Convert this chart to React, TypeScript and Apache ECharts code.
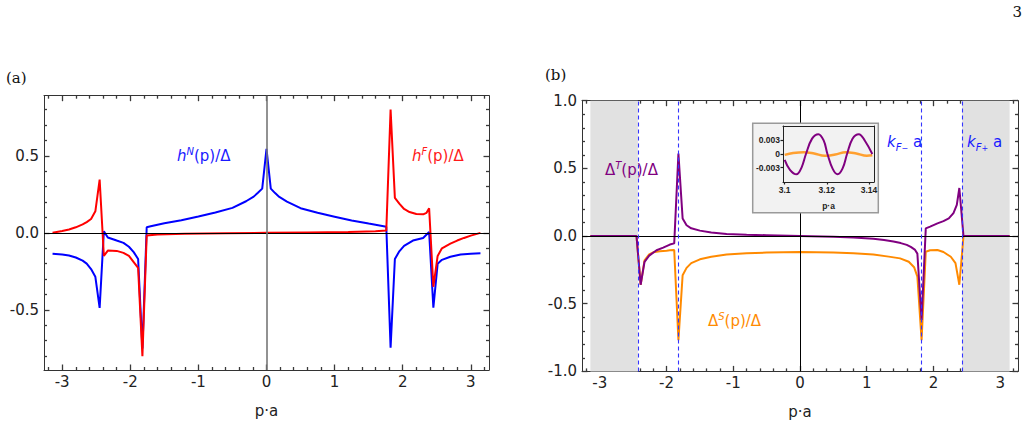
import React, { useEffect, useRef } from "react";
import * as echarts from "echarts";

const PI = 3.1416;

// ---------- Panel (a): h^N and h^F ----------
const hN: [number, number][] = [
  [-3.1416, -0.136], [-3.0, -0.14], [-2.9, -0.147], [-2.8, -0.16], [-2.7, -0.18],
  [-2.64, -0.2], [-2.576, -0.235], [-2.513, -0.285], [-2.45, -0.487], [-2.388, 0.01],
  [-2.33, -0.03], [-2.2, -0.05], [-2.1, -0.065], [-2.02, -0.09], [-1.95, -0.125],
  [-1.885, -0.17], [-1.822, -0.75], [-1.759, 0.036], [-1.7, 0.043], [-1.5, 0.062],
  [-1.25, 0.082], [-1.0, 0.106], [-0.75, 0.132], [-0.5, 0.162], [-0.3, 0.205],
  [-0.188, 0.235], [-0.126, 0.26], [-0.063, 0.287], [0, 0.545], [0.063, 0.287],
  [0.126, 0.258], [0.188, 0.233], [0.3, 0.203], [0.5, 0.16], [0.75, 0.13],
  [1.0, 0.105], [1.25, 0.08], [1.5, 0.06], [1.7, 0.045], [1.759, 0.04],
  [1.822, -0.745], [1.885, -0.17], [1.95, -0.12], [2.02, -0.085], [2.15, -0.05],
  [2.3, -0.033], [2.388, 0.005], [2.45, -0.485], [2.513, -0.2], [2.576, -0.175],
  [2.7, -0.155], [2.85, -0.14], [3.0, -0.135], [3.1416, -0.132],
];

const hF: [number, number][] = [
  [-3.1416, 0], [-3.0, 0.012], [-2.9, 0.022], [-2.8, 0.036], [-2.7, 0.055],
  [-2.64, 0.07], [-2.576, 0.09], [-2.513, 0.14], [-2.45, 0.346], [-2.388, -0.15],
  [-2.33, -0.115], [-2.2, -0.117], [-2.1, -0.13], [-2.02, -0.15], [-1.95, -0.19],
  [-1.885, -0.227], [-1.822, -0.8], [-1.759, -0.017], [-1.6, -0.01], [-1.2, -0.006],
  [-0.6, -0.003], [0, 0], [0.6, 0.003], [1.2, 0.006], [1.6, 0.01],
  [1.759, 0.016], [1.822, 0.8], [1.885, 0.227], [1.95, 0.19], [2.02, 0.155],
  [2.1, 0.135], [2.2, 0.122], [2.3, 0.12], [2.35, 0.13], [2.388, 0.16],
  [2.45, -0.35], [2.513, -0.15], [2.576, -0.1], [2.7, -0.07], [2.8, -0.05],
  [2.9, -0.033], [3.0, -0.018], [3.1416, 0],
];

// ---------- Panel (b): Delta^S and Delta^T ----------
const dS: [number, number][] = [
  [-3.1416, 0], [-2.513, 0], [-2.45, 0], [-2.388, -0.36], [-2.33, -0.18],
  [-2.26, -0.135], [-2.2, -0.12], [-2.1, -0.112], [-2.0, -0.108], [-1.95, -0.105],
  [-1.885, -0.103], [-1.822, -0.77], [-1.759, -0.29], [-1.7, -0.235], [-1.63, -0.2],
  [-1.5, -0.172], [-1.33, -0.153], [-1.1, -0.137], [-0.8, -0.127], [-0.5, -0.122],
  [0, -0.118], [0.5, -0.122], [0.8, -0.127], [1.1, -0.137], [1.33, -0.152],
  [1.5, -0.165], [1.63, -0.19], [1.71, -0.23], [1.759, -0.3], [1.822, -0.77],
  [1.885, -0.116], [1.95, -0.105], [2.06, -0.103], [2.15, -0.118], [2.26, -0.153],
  [2.33, -0.2], [2.388, -0.36], [2.45, 0], [3.1416, 0],
];

const dT: [number, number][] = [
  [-3.1416, 0], [-2.45, 0], [-2.388, -0.36], [-2.33, -0.19], [-2.26, -0.145],
  [-2.15, -0.105], [-2.05, -0.085], [-1.95, -0.063], [-1.885, -0.054], [-1.822, 0.61],
  [-1.759, 0.13], [-1.7, 0.08], [-1.63, 0.057], [-1.5, 0.04], [-1.33, 0.026],
  [-1.1, 0.016], [-0.8, 0.01], [-0.5, 0.006], [0, 0], [0.5, -0.006],
  [0.8, -0.011], [1.1, -0.02], [1.26, -0.03], [1.4, -0.04], [1.51, -0.052],
  [1.6, -0.065], [1.66, -0.08], [1.72, -0.1], [1.759, -0.13], [1.822, -0.62],
  [1.885, 0.057], [1.95, 0.07], [2.06, 0.094], [2.15, 0.11], [2.23, 0.13],
  [2.3, 0.17], [2.35, 0.23], [2.388, 0.355], [2.45, 0], [3.1416, 0],
];

// Fermi momenta (dashed lines)
const kF = [1.822, 2.43];

// ---------- Inset ----------
const insetT: [number, number][] = [
  [3.1, -0.0013], [3.1025, -0.0035], [3.1056, -0.0045], [3.108, -0.003], [3.1101, 0],
  [3.113, 0.0034], [3.116, 0.0044], [3.1185, 0.003], [3.1203, 0], [3.1228, -0.0033],
  [3.1251, -0.0045], [3.1275, -0.0032], [3.1296, 0], [3.1322, 0.0034], [3.1352, 0.0044],
  [3.138, 0.003], [3.1416, 0],
];
const insetS: [number, number][] = [
  [3.1, -0.0002], [3.104, 0.0002], [3.109, 0.0004], [3.114, 0.0001], [3.119, -0.0004],
  [3.124, -0.0001], [3.129, 0.0004], [3.134, 0.0001], [3.139, -0.0004], [3.1416, -0.0003],
];

// ---------- Ticks ----------
const xMajor = [-3, -2, -1, 0, 1, 2, 3];
const xMinor = [-3.2, -2.8, -2.6, -2.4, -2.2, -1.8, -1.6, -1.4, -1.2, -0.8, -0.6, -0.4, -0.2,
  0.2, 0.4, 0.6, 0.8, 1.2, 1.4, 1.6, 1.8, 2.2, 2.4, 2.6, 2.8, 3.2];
const yMajorA = [-0.5, 0, 0.5];
const yMinorA = [-0.8, -0.7, -0.6, -0.4, -0.3, -0.2, -0.1, 0.1, 0.2, 0.3, 0.4, 0.6, 0.7, 0.8];
const yMajorB = [-1, -0.5, 0, 0.5, 1];
const yMinorB = [-0.9, -0.8, -0.7, -0.6, -0.4, -0.3, -0.2, -0.1, 0.1, 0.2, 0.3, 0.4, 0.6, 0.7, 0.8, 0.9];
const insetXTicks = [3.1, 3.12, 3.14];
const insetYTicks = [-0.003, 0, 0.003];

const FF = "DejaVu Sans";
const FRAME = "#333";
const TICK = "#3a3a3a";
const BLUE = "#0000ff";
const RED = "#ff0000";
const PURPLE = "#800080";
const ORANGE = "#ff8a00";
const XR = 3.267;

const blank = () => "";

function frameAxes(
  isX: boolean,
  grid: number,
  min: number,
  max: number,
  major: number[],
  minor: number[],
  fmt: (v: number) => string,
  name?: string
): any[] {
  const base = { type: "value", gridIndex: grid, min, max, splitLine: { show: false } };
  const pos1 = isX ? "bottom" : "left";
  const pos2 = isX ? "top" : "right";
  const tick = (vals: number[], len: number) => ({
    show: true, inside: true, length: len, customValues: vals, lineStyle: { color: TICK, width: 1.3 },
  });
  const hiddenLabel = (vals: number[]) => ({ show: true, customValues: vals, formatter: blank, fontSize: 1 });
  const main: any = {
    ...base,
    position: pos1,
    axisLine: { show: true, onZero: false, lineStyle: { color: FRAME, width: 1 } },
    axisTick: tick(major, 5.5),
    axisLabel: {
      show: true, customValues: major, formatter: fmt, fontFamily: FF, fontSize: 15,
      color: "#222", margin: isX ? 4 : 5,
    },
  };
  if (name) {
    main.name = name;
    main.nameLocation = "middle";
    main.nameGap = 33;
    main.nameTextStyle = { fontFamily: FF, fontSize: 15, color: "#222" };
  }
  const mainMinor = {
    ...base, position: pos1,
    axisLine: { show: false, onZero: false },
    axisTick: tick(minor, 3),
    axisLabel: hiddenLabel(minor),
  };
  const opp = {
    ...base, position: pos2,
    axisLine: { show: true, onZero: false, lineStyle: { color: FRAME, width: 1 } },
    axisTick: tick(major, 5.5),
    axisLabel: hiddenLabel(major),
  };
  const oppMinor = {
    ...base, position: pos2,
    axisLine: { show: false, onZero: false },
    axisTick: tick(minor, 3),
    axisLabel: hiddenLabel(minor),
  };
  return [main, mainMinor, opp, oppMinor];
}

const fmtInt = (v: number) => String(Math.round(v));
const fmt1 = (v: number) => v.toFixed(1);

function mathRich(color: string) {
  return {
    i: { fontFamily: FF, fontSize: 15, fontStyle: "italic", fill: color, lineHeight: 20 },
    n: { fontFamily: FF, fontSize: 15, fill: color, lineHeight: 20 },
    sup: { fontFamily: FF, fontSize: 10, fontStyle: "italic", fill: color, lineHeight: 10, verticalAlign: "top" },
    sub: { fontFamily: FF, fontSize: 10, fontStyle: "italic", fill: color, lineHeight: 10, verticalAlign: "bottom" },
    subsub: { fontFamily: FF, fontSize: 8, fill: color, lineHeight: 7, verticalAlign: "bottom" },
  };
}

function mathText(x: number, y: number, text: string, color: string) {
  return {
    type: "text",
    x,
    y,
    z: 20,
    style: { text, rich: mathRich(color), fill: color, align: "left", verticalAlign: "middle", fontFamily: FF, fontSize: 15 },
  };
}

export default function App() {
  const ref = useRef<HTMLDivElement>(null);

  useEffect(() => {
    const chart = echarts.init(ref.current!, null, { renderer: "svg" });

    const xAxes = [
      ...frameAxes(true, 0, -XR, XR, xMajor, xMinor, fmtInt, "p·a"),
      ...frameAxes(true, 1, -XR, XR, xMajor, xMinor, fmtInt, "p·a"),
      {
        type: "value", gridIndex: 2, min: 3.0992, max: 3.1424, position: "bottom", z: 10,
        splitLine: { show: false },
        axisLine: { show: true, onZero: false, lineStyle: { color: "#222", width: 1 } },
        axisTick: { show: true, inside: false, length: 2.5, customValues: insetXTicks, lineStyle: { color: "#222", width: 1.2 } },
        axisLabel: {
          show: true, customValues: insetXTicks, formatter: (v: number) => String(Number(v.toFixed(2))),
          fontFamily: "Liberation Sans", fontWeight: "bold", fontSize: 8.5, color: "#222", margin: 3,
        },
        name: "p·a", nameLocation: "middle", nameGap: 19,
        nameTextStyle: { fontFamily: "Liberation Sans", fontWeight: "bold", fontSize: 8.5, color: "#222" },
      },
      {
        type: "value", gridIndex: 2, min: 3.0992, max: 3.1424, position: "top", z: 10,
        splitLine: { show: false },
        axisLine: { show: true, onZero: false, lineStyle: { color: "#222", width: 1 } },
        axisTick: { show: false }, axisLabel: { show: false },
      },
    ];
    const yAxes = [
      ...frameAxes(false, 0, -0.89, 0.89, yMajorA, yMinorA, fmt1),
      ...frameAxes(false, 1, -1, 1, yMajorB, yMinorB, fmt1),
      {
        type: "value", gridIndex: 2, min: -0.0062, max: 0.0062, position: "left", z: 10,
        splitLine: { show: false },
        axisLine: { show: true, onZero: false, lineStyle: { color: "#222", width: 1 } },
        axisTick: { show: true, inside: false, length: 2.5, customValues: insetYTicks, lineStyle: { color: "#222", width: 1.2 } },
        axisLabel: {
          show: true, customValues: insetYTicks, formatter: (v: number) => (Math.abs(v) < 1e-9 ? "0" : v.toFixed(3)),
          fontFamily: "Liberation Sans", fontWeight: "bold", fontSize: 8.5, color: "#222", margin: 3,
        },
      },
      {
        type: "value", gridIndex: 2, min: -0.0062, max: 0.0062, position: "right", z: 10,
        splitLine: { show: false },
        axisLine: { show: true, onZero: false, lineStyle: { color: "#222", width: 1 } },
        axisTick: { show: false }, axisLabel: { show: false },
      },
    ];

    const lineSeries = (data: [number, number][], color: string, xi: number, yi: number, z = 3, width = 2) => ({
      type: "line",
      data,
      xAxisIndex: xi,
      yAxisIndex: yi,
      showSymbol: false,
      symbol: "none",
      z,
      lineStyle: { color, width },
      itemStyle: { color },
      emphasis: { disabled: true },
    });

    const option: any = {
      animation: false,
      grid: [
        { left: 44, top: 95.7, width: 445, height: 274.3 },
        { left: 582, top: 100.7, width: 439.7, height: 270.7 },
        { left: 783, top: 126, width: 91, height: 56 },
      ],
      xAxis: xAxes,
      yAxis: yAxes,
      series: [
        {
          type: "line", data: [], xAxisIndex: 0, yAxisIndex: 0, z: 1,
          markLine: {
            silent: true, symbol: "none", label: { show: false }, animation: false,
            data: [
              { yAxis: 0, lineStyle: { color: "#000", width: 1, type: "solid" } },
              { xAxis: 0, lineStyle: { color: "#777", width: 1.6, type: "solid" } },
            ],
          },
        },
        lineSeries(hN, BLUE, 0, 0),
        lineSeries(hF, RED, 0, 0, 4),
        {
          type: "line", data: [], xAxisIndex: 4, yAxisIndex: 4, z: 1,
          markArea: {
            silent: true, itemStyle: { color: "#e1e1e1" },
            data: [
              [{ xAxis: -PI }, { xAxis: -kF[1] }],
              [{ xAxis: kF[1] }, { xAxis: PI }],
            ],
          },
          markLine: {
            silent: true, symbol: "none", label: { show: false }, animation: false,
            data: [
              { yAxis: 0, lineStyle: { color: "#000", width: 1, type: "solid" } },
              { xAxis: 0, lineStyle: { color: "#000", width: 1, type: "solid" } },
            ],
          },
        },
        {
          type: "line", data: [], xAxisIndex: 4, yAxisIndex: 4, z: 5,
          markLine: {
            silent: true, symbol: "none", label: { show: false }, animation: false,
            lineStyle: { color: "#3535ff", width: 1.1, type: [4, 3] },
            data: [
              { xAxis: -kF[1] }, { xAxis: -kF[0] }, { xAxis: kF[0] }, { xAxis: kF[1] },
            ],
          },
        },
        lineSeries(dS, ORANGE, 4, 4),
        lineSeries(dT, PURPLE, 4, 4, 4),
        {
          ...lineSeries(insetS, "#ffa030", 8, 8, 10, 2.5),
          smooth: 0.4,
          markLine: {
            silent: true, symbol: "none", label: { show: false }, animation: false,
            data: [{ yAxis: 0, lineStyle: { color: "#222", width: 1.2, type: "solid" } }],
          },
        },
        { ...lineSeries(insetT, PURPLE, 8, 8, 11, 2), smooth: 0.4 },
      ],
      graphic: [
        {
          type: "rect", z: 8,
          shape: { x: 752.7, y: 123.3, width: 125.6, height: 89.4 },
          style: { fill: "#f2f2f2", stroke: "#9a9a9a", lineWidth: 1.5 },
        },
        { type: "text", x: 6, y: 78, z: 20, style: { text: "(a)", fill: "#111", font: "15px 'DejaVu Serif'", verticalAlign: "middle" } },
        { type: "text", x: 545, y: 75, z: 20, style: { text: "(b)", fill: "#111", font: "15px 'DejaVu Serif'", verticalAlign: "middle" } },
        { type: "text", x: 1022, y: 12, z: 20, style: { text: "3", fill: "#111", font: "15px 'DejaVu Serif'", align: "right", verticalAlign: "middle" } },
        mathText(177, 156, "{i|h}{sup|N}{n|(p)/Δ}", "#1a1aff"),
        mathText(412, 156, "{i|h}{sup|F}{n|(p)/Δ}", "#ff1a1a"),
        mathText(605, 170, "{n|Δ}{sup|T}{n|(p)/Δ}", PURPLE),
        mathText(708, 321, "{n|Δ}{sup|S}{n|(p)/Δ}", ORANGE),
        mathText(887, 142, "{i|k}{sub|F}{subsub|−}{n| a}", "#1a1aff"),
        mathText(967, 142, "{i|k}{sub|F}{subsub|+}{n| a}", "#1a1aff"),
      ],
    };

    chart.setOption(option);
    return () => chart.dispose();
  }, []);

  return <div ref={ref} style={{ position: "absolute", left: 0, top: 0, width: 1029, height: 427 }} />;
}
